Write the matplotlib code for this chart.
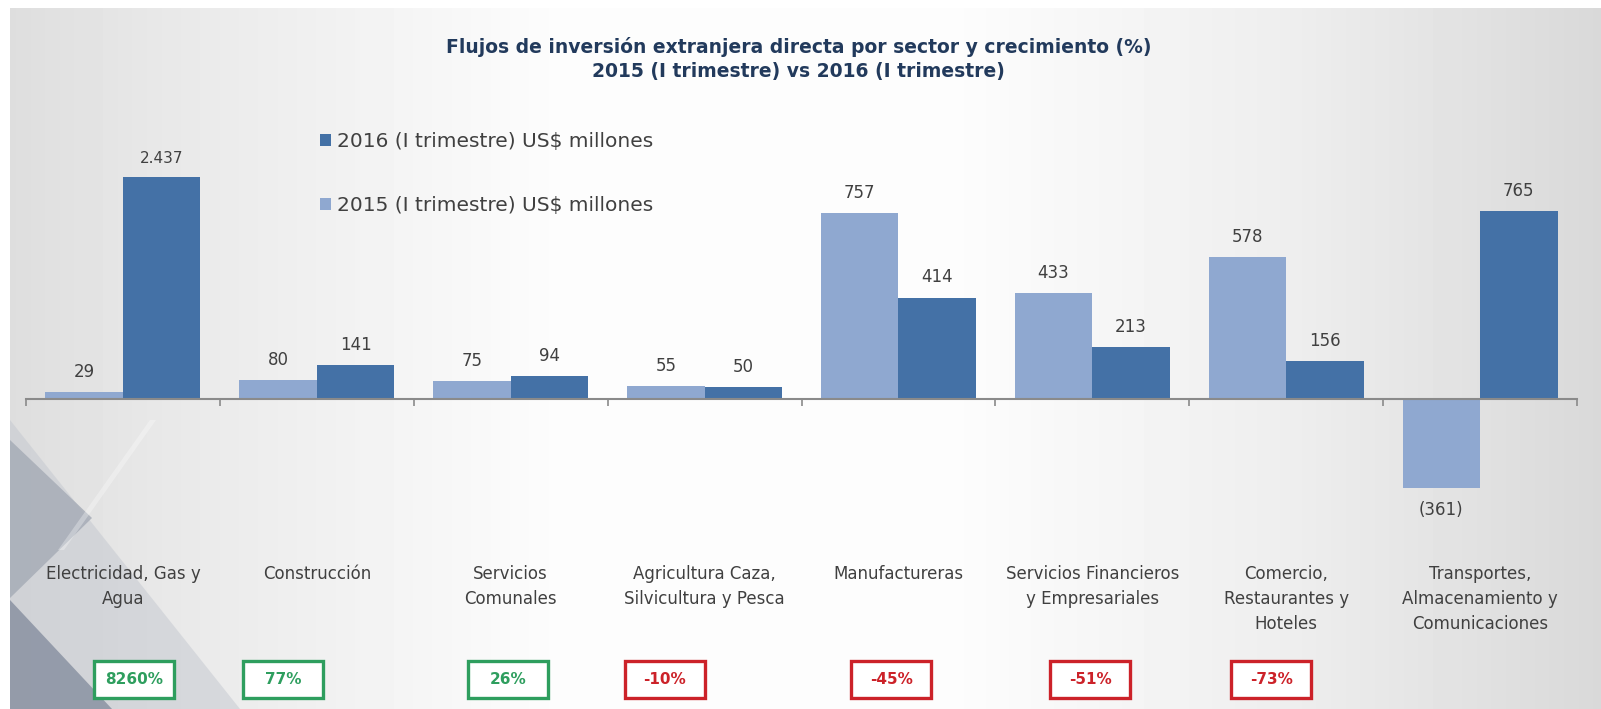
import numpy as np
import matplotlib
matplotlib.use('Agg')
import matplotlib.pyplot as plt
from matplotlib.patches import Polygon, Rectangle, Patch
from matplotlib.transforms import blended_transform_factory

# Data (US$ millones, first quarter)
SECTORS = ['Electricidad, Gas y\nAgua', 'Construcción', 'Servicios\nComunales',
           'Agricultura Caza,\nSilvicultura y Pesca', 'Manufactureras',
           'Servicios Financieros\ny Empresariales', 'Comercio,\nRestaurantes y\nHoteles',
           'Transportes,\nAlmacenamiento y\nComunicaciones']
IED_2015 = [29, 80, 75, 55, 757, 433, 578, -361]
IED_2016 = [2437, 141, 94, 50, 414, 213, 156, 765]
GROWTH = [8260, 77, 26, -10, -45, -51, -73, None]

LABEL_2016 = '2016 (I trimestre) US$ millones'
LABEL_2015 = '2015 (I trimestre) US$ millones'
TITLE = ('Flujos de inversión extranjera directa por sector y crecimiento (%)\n'
         '2015 (I trimestre) vs 2016 (I trimestre)')

# Styling / layout
W, H = 1601, 709
DARK = '#4471A6'
LIGHT = '#8FA8D0'
TEXT_GRAY = '#404040'
TITLE_COLOR = '#223A5C'
GREEN = '#2E9E5E'
RED = '#CC2229'
Y_MIN, Y_MAX = -450, 905      # top is cut off like in the slide (2.437 bar is truncated)
BOX_SHIFT = [11, -34, -3, -40, -7, -2, -15, 0]  # growth boxes are hand-placed on the slide

plt.rcParams['font.family'] = ['DejaVu Sans']


def fmt(v):
    s = f'{abs(v):,}'.replace(',', '.')
    return f'({s})' if v < 0 else s


fig = plt.figure(figsize=(W / 100, H / 100), dpi=100)

# ---- slide background: grey gradient + diagonal decoration ----
bg = fig.add_axes([0, 0, 1, 1], zorder=-10)
bg.set_xlim(0, W)
bg.set_ylim(H, 0)
bg.axis('off')
xs = np.linspace(0, W, 400)
shade = np.interp(xs, [0, 150, 550, 950, 1300, W], [0.87, 0.91, 0.99, 0.99, 0.93, 0.85])
grad = np.tile(shade, (2, 1))
bg.imshow(grad, cmap='gray', vmin=0, vmax=1, aspect='auto',
          extent=[10, W, H, 8], interpolation='bilinear')
bg.add_patch(Polygon([(10, 420), (240, H), (10, H)], closed=True,
                     facecolor='#c3c7cf', edgecolor='none', alpha=0.5))
bg.add_patch(Polygon([(10, 440), (92, 518), (10, 598)], closed=True,
                     facecolor='#a4aab5', edgecolor='none', alpha=0.8))
bg.add_patch(Polygon([(10, 600), (112, H), (10, H)], closed=True,
                     facecolor='#8a92a2', edgecolor='none', alpha=0.85))
bg.add_patch(Polygon([(150, 420), (156, 420), (64, 550), (58, 550)], closed=True,
                     facecolor='white', edgecolor='none', alpha=0.3))

# ---- bar chart ----
ax = fig.add_axes([26 / W, 0.2803, (1577 - 26) / W, 0.4705])
ax.patch.set_alpha(0)
x = np.arange(len(SECTORS))
bw = 0.4
b15 = ax.bar(x - bw / 2, IED_2015, bw, color=LIGHT, zorder=2)
b16 = ax.bar(x + bw / 2, IED_2016, bw, color=DARK, zorder=2)
ax.set_xlim(-0.5, len(SECTORS) - 0.5)
ax.set_ylim(Y_MIN, Y_MAX)

for bars, vals in ((b15, IED_2015), (b16, IED_2016)):
    for rect, v in zip(bars, vals):
        cx = rect.get_x() + rect.get_width() / 2
        if v >= 0:
            ax.annotate(fmt(v), (cx, min(v, Y_MAX)), xytext=(0, 8),
                        textcoords='offset points', ha='center', va='bottom',
                        fontsize=12 if v < 1000 else 11, color=TEXT_GRAY,
                        annotation_clip=False)
        else:
            ax.annotate(fmt(v), (cx, v), xytext=(0, -9),
                        textcoords='offset points', ha='center', va='top',
                        fontsize=12, color=TEXT_GRAY, annotation_clip=False)

for side in ('left', 'right', 'top'):
    ax.spines[side].set_visible(False)
ax.spines['bottom'].set_position(('data', 0))
ax.spines['bottom'].set_color('#8a8a8a')
ax.spines['bottom'].set_linewidth(1.5)
ax.set_yticks([])
ax.set_xticks(np.arange(-0.5, len(SECTORS), 1))
ax.set_xticklabels([])
ax.tick_params(axis='x', length=5, width=1.2, color='#8a8a8a', direction='out')

# category names under the chart
trans = blended_transform_factory(ax.transData, fig.transFigure)
for i, name in enumerate(SECTORS):
    ax.text(i, 1 - 565 / H, name, transform=trans, ha='center', va='top',
            fontsize=12, color=TEXT_GRAY, linespacing=1.5)

# growth boxes
to_fig = fig.transFigure.inverted()
for i, g in enumerate(GROWTH):
    if g is None:
        continue
    px, _ = ax.transData.transform((i, 0))
    px += BOX_SHIFT[i]
    py = H - 679
    col = GREEN if g >= 0 else RED
    bw_px, bh_px = 80, 37
    (fx0, fy0) = to_fig.transform((px - bw_px / 2, py - bh_px / 2))
    (fx1, fy1) = to_fig.transform((px + bw_px / 2, py + bh_px / 2))
    fig.add_artist(Rectangle((fx0, fy0), fx1 - fx0, fy1 - fy0, transform=fig.transFigure,
                             facecolor='white', edgecolor=col, linewidth=2.4))
    fig.text((fx0 + fx1) / 2, (fy0 + fy1) / 2, f'{g}%', ha='center', va='center',
             fontsize=11, fontweight='bold', color=col)

# title and legend
fig.text(0.499, 1 - 59 / H, TITLE, ha='center', va='center', fontsize=13.5,
         fontweight='bold', color=TITLE_COLOR, linespacing=1.35)

handles = [Patch(facecolor=DARK, label=LABEL_2016), Patch(facecolor=LIGHT, label=LABEL_2015)]
fig.legend(handles=handles, loc='upper left', bbox_to_anchor=(320 / W, 1 - 132 / H),
           frameon=False, fontsize=14.5, labelcolor=TEXT_GRAY, handlelength=0.55,
           handleheight=0.55, handletextpad=0.3, labelspacing=2.25,
           borderpad=0, borderaxespad=0)

fig.savefig('out.png', dpi=100)
